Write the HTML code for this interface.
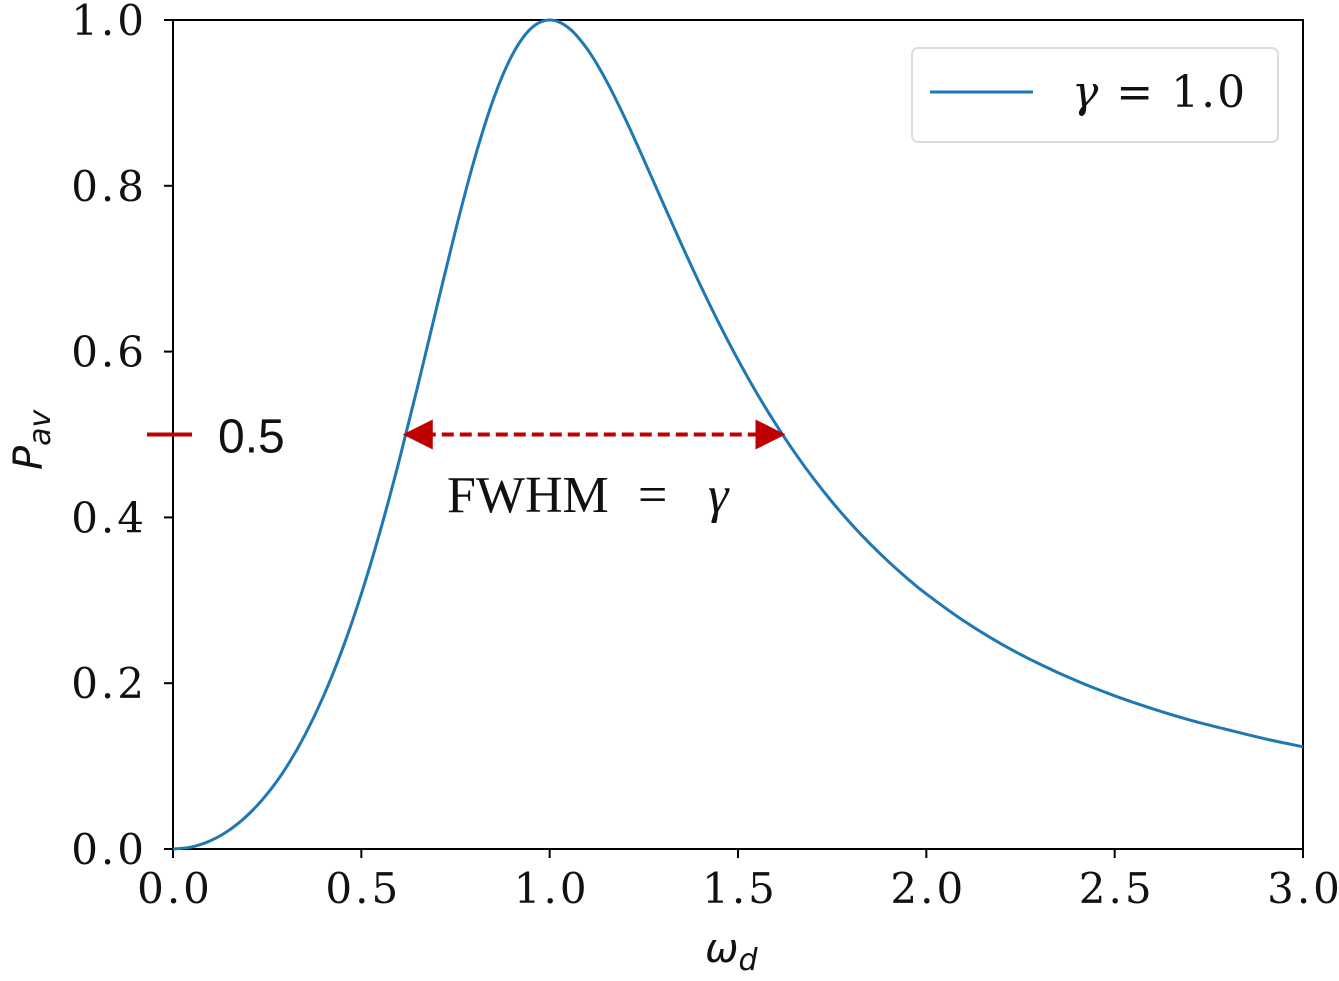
<!DOCTYPE html>
<html><head><meta charset="utf-8"><style>
html,body{margin:0;padding:0;background:#fff;}
svg{display:block;}
</style></head><body>
<svg width="1339" height="981" viewBox="0 0 1339 981" xmlns="http://www.w3.org/2000/svg">
<defs>
<marker id="ah" viewBox="0 0 10 10" refX="9" refY="5" markerWidth="30" markerHeight="30" markerUnits="userSpaceOnUse" orient="auto-start-reverse"><path d="M0,0 L10,5 L0,10 z" fill="#c00000"/></marker>
</defs>
<g id="plot"></g>
</svg>
<script>
const xs = [0,0.05,0.1,0.15,0.2,0.25,0.3,0.35,0.4,0.45,0.5,0.55,0.6,0.65,0.7,0.75,0.8,0.85,0.9,0.95,1.0,1.05,1.1,1.15,1.2,1.25,1.3,1.35,1.4,1.45,1.5,1.55,1.6,1.65,1.7,1.75,1.8,1.85,1.9,1.95,2.0,2.1,2.2,2.3,2.4,2.5,2.6,2.7,2.8,2.9,3.0];
const ys = [0,0.0025,0.0101,0.0230,0.0416,0.0664,0.0980,0.1373,0.1848,0.2415,0.3077,0.3834,0.4678,0.5588,0.6532,0.7461,0.8316,0.9037,0.9573,0.9896,1.0,0.9906,0.9648,0.9271,0.8815,0.8316,0.7802,0.7293,0.6802,0.6337,0.5902,0.5498,0.5127,0.4785,0.4472,0.4186,0.3924,0.3684,0.3464,0.3262,0.3077,0.2750,0.2471,0.2233,0.2026,0.1848,0.1693,0.1556,0.1439,0.1328,0.1233];
const xTicks = [0,0.5,1.0,1.5,2.0,2.5,3.0];
const xTickLabels = ["0.0","0.5","1.0","1.5","2.0","2.5","3.0"];
const yTicks = [0,0.2,0.4,0.6,0.8,1.0];
const yTickLabels = ["0.0","0.2","0.4","0.6","0.8","1.0"];
const halfMax = 0.5;
const fwhmLeft = 0.618, fwhmRight = 1.618;

const X0=173,X1=1303,Y0=849,Y1=20;
const sx = v => X0 + (v-0)/(3-0)*(X1-X0);
const sy = v => Y0 - (v-0)/(1-0)*(Y0-Y1);
const NS="http://www.w3.org/2000/svg";
const g=document.getElementById('plot');
function el(t,a,txt){const e=document.createElementNS(NS,t);for(const k in a)e.setAttribute(k,a[k]);if(txt!==undefined)e.textContent=txt;g.appendChild(e);return e;}
const serif='"DejaVu Serif","Liberation Serif",serif';

let f=el('rect',{x:X0,y:Y1,width:X1-X0,height:Y0-Y1,fill:'none',stroke:'#000','stroke-width':2});



xTicks.forEach((v,i)=>{
  let t=el('line',{x1:sx(v),x2:sx(v),y1:Y0,y2:Y0+9,stroke:'#000','stroke-width':2});
  
  
  let l=el('text',{x:sx(v)+2,y:Y0+54,'text-anchor':'middle','font-family':serif,'font-size':42,'letter-spacing':3,fill:'#111'},xTickLabels[i]);
  
  
});
yTicks.forEach((v,i)=>{
  let t=el('line',{x1:X0-9,x2:X0,y1:sy(v),y2:sy(v),stroke:'#000','stroke-width':2});
  
  
  let l=el('text',{x:X0-26,y:sy(v)+15,'text-anchor':'end','font-family':serif,'font-size':42,'letter-spacing':3,fill:'#111'},yTickLabels[i]);
  
  
});

function cr(){let p=xs.map((v,i)=>[sx(v),sy(ys[i])]);let s='M'+p[0][0]+','+p[0][1];
 for(let i=0;i<p.length-1;i++){const a=p[Math.max(0,i-1)],b=p[i],c=p[i+1],e=p[Math.min(p.length-1,i+2)];
  s+=` C${b[0]+(c[0]-a[0])/6},${b[1]+(c[1]-a[1])/6} ${c[0]-(e[0]-b[0])/6},${c[1]-(e[1]-b[1])/6} ${c[0]},${c[1]}`;}return s;}
let c=el('path',{d:cr(),fill:'none',stroke:'#1f77b4','stroke-width':3});



let yt=el('text',{x:0,y:0,transform:'translate(42,470) rotate(-90)','font-family':'"DejaVu Sans",sans-serif','font-size':40,'font-style':'italic',fill:'#111'});
yt.innerHTML='P<tspan font-size="30" dy="8">av</tspan>';


let xt=el('text',{x:705,y:962,'font-family':'"DejaVu Sans",sans-serif','font-size':40,'font-style':'italic',fill:'#111'});
xt.innerHTML='ω<tspan font-size="30" dy="8">d</tspan>';



let lb=el('rect',{x:912,y:48,width:366,height:94,rx:6,fill:'#fff',stroke:'#ddd','stroke-width':2});


let ll=el('line',{x1:930,x2:1033,y1:92,y2:92,stroke:'#1f77b4','stroke-width':3});


let lt=el('text',{x:1072,y:107,'font-family':serif,'font-size':44,'letter-spacing':2,fill:'#111'});
lt.innerHTML='<tspan font-style="italic">γ</tspan> = 1.0';



let rt=el('line',{x1:147,x2:192,y1:sy(halfMax),y2:sy(halfMax),stroke:'#c00000','stroke-width':4});


let ht=el('text',{x:218,y:sy(halfMax)+18,'font-family':'"Liberation Sans",sans-serif','font-size':48,fill:'#111'},'0.5');


let ar=el('line',{x1:sx(fwhmLeft),x2:sx(fwhmRight),y1:sy(halfMax),y2:sy(halfMax),stroke:'#c00000','stroke-width':4,'stroke-dasharray':'12,6','marker-start':'url(#ah)','marker-end':'url(#ah)'});


let ft=el('text',{x:447,y:512,'font-family':'"Liberation Serif",serif','font-size':52,fill:'#111'},'FWHM');


let fe=el('text',{x:638,y:512,'font-family':'"Liberation Serif",serif','font-size':52,fill:'#111'},'=');


let fg=el('text',{x:708,y:512,'font-family':'"Liberation Serif",serif','font-size':52,'font-style':'italic',fill:'#111'},'γ');


</script>
</body></html>
